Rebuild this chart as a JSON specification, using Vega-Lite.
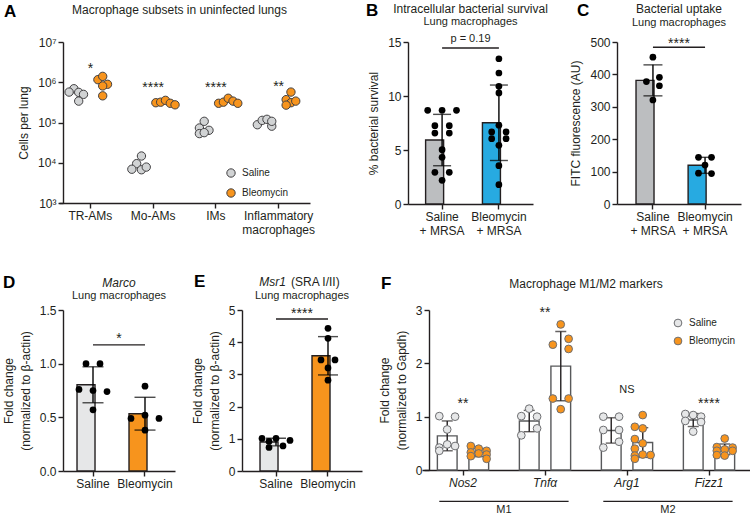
{
"$schema":"https://vega.github.io/schema/vega-lite/v6.json",
"background":"white",
"padding":{"left":2,"top":1,"right":0,"bottom":0},
"config":{
 "font":"Liberation Sans",
 "view":{"stroke":null},
 "axis":{"grid":false,"domainColor":"#231f20","domainWidth":1.4,"tickColor":"#231f20","tickWidth":1.4,"tickSize":5,"labelFont":"Liberation Sans","labelFontSize":12,"labelColor":"#231f20","titleFont":"Liberation Sans","titleFontSize":12,"titleFontWeight":"normal","titleColor":"#231f20","labelPadding":2,"titlePadding":7,"titleLineHeight":17,"labelLineHeight":14},
 "axisX":{"labelAngle":0},
 "title":{"font":"Liberation Sans","fontSize":17,"fontWeight":"bold","color":"#000","anchor":"start","frame":"group","offset":0},
 "text":{"font":"Liberation Sans","color":"#231f20"},
 "legend":{"labelFont":"Liberation Sans","labelFontSize":10,"labelColor":"#231f20"}
},
"bounds":"flush","spacing":268,
"resolve":{"scale":{"fill":"independent","xOffset":"independent","x":"independent","y":"independent"},"legend":{"fill":"independent"}},
"vconcat":[
{"bounds":"flush","spacing":84,
 "resolve":{"scale":{"fill":"independent","xOffset":"independent","x":"independent","y":"independent"},"legend":{"fill":"independent"}},
 "hconcat":[
  {"width":261,"height":161,
   "title":{"text":"A","dx":-59,"dy":21},
   "data":{"values":[
    {"cat":"TR-AMs","g":"Saline","k":"S2","v":690000},{"cat":"TR-AMs","g":"Saline","k":"S1","v":570000},{"cat":"TR-AMs","g":"Saline","k":"S3","v":560000},{"cat":"TR-AMs","g":"Saline","k":"S4","v":500000},{"cat":"TR-AMs","g":"Saline","k":"S3","v":340000},
    {"cat":"TR-AMs","g":"Bleomycin","k":"B2","v":1160000},{"cat":"TR-AMs","g":"Bleomycin","k":"B3","v":1400000},{"cat":"TR-AMs","g":"Bleomycin","k":"B4","v":890000},{"cat":"TR-AMs","g":"Bleomycin","k":"B3","v":810000},{"cat":"TR-AMs","g":"Bleomycin","k":"B3","v":460000},
    {"cat":"Mo-AMs","g":"Saline","k":"S3","v":14700},{"cat":"Mo-AMs","g":"Saline","k":"S2","v":9500},{"cat":"Mo-AMs","g":"Saline","k":"S1","v":6900},{"cat":"Mo-AMs","g":"Saline","k":"S3","v":6700},{"cat":"Mo-AMs","g":"Saline","k":"S4","v":7800},
    {"cat":"Mo-AMs","g":"Bleomycin","k":"B1","v":310000},{"cat":"Mo-AMs","g":"Bleomycin","k":"B2","v":320000},{"cat":"Mo-AMs","g":"Bleomycin","k":"B3","v":355000},{"cat":"Mo-AMs","g":"Bleomycin","k":"B4","v":300000},{"cat":"Mo-AMs","g":"Bleomycin","k":"B5","v":275000},
    {"cat":"IMs","g":"Saline","k":"S3","v":107000},{"cat":"IMs","g":"Saline","k":"S2","v":73000},{"cat":"IMs","g":"Saline","k":"S4","v":64000},{"cat":"IMs","g":"Saline","k":"S2","v":53000},{"cat":"IMs","g":"Saline","k":"S3","v":56000},
    {"cat":"IMs","g":"Bleomycin","k":"B1","v":300000},{"cat":"IMs","g":"Bleomycin","k":"B2","v":320000},{"cat":"IMs","g":"Bleomycin","k":"B3","v":400000},{"cat":"IMs","g":"Bleomycin","k":"B4","v":340000},{"cat":"IMs","g":"Bleomycin","k":"B5","v":300000},
    {"cat":"Inflammatory macrophages","g":"Saline","k":"S1","v":88000},{"cat":"Inflammatory macrophages","g":"Saline","k":"S2","v":113000},{"cat":"Inflammatory macrophages","g":"Saline","k":"S3","v":120000},{"cat":"Inflammatory macrophages","g":"Saline","k":"S4","v":81000},{"cat":"Inflammatory macrophages","g":"Saline","k":"S4","v":107000},
    {"cat":"Inflammatory macrophages","g":"Bleomycin","k":"B3","v":570000},{"cat":"Inflammatory macrophages","g":"Bleomycin","k":"B2","v":370000},{"cat":"Inflammatory macrophages","g":"Bleomycin","k":"B3","v":310000},{"cat":"Inflammatory macrophages","g":"Bleomycin","k":"B2","v":270000},{"cat":"Inflammatory macrophages","g":"Bleomycin","k":"B4","v":340000}
   ]},
   "layer":[
    {"mark":{"type":"circle","size":70,"stroke":"#414042","strokeWidth":1,"opacity":1},
     "encoding":{
      "x":{"field":"cat","type":"nominal","scale":{"domain":["TR-AMs","Mo-AMs","IMs","Inflammatory macrophages"],"range":[-4,247],"paddingInner":0,"paddingOuter":0},"title":null,"axis":{"labelExpr":"split(datum.label, ' ')"}},
      "xOffset":{"field":"k","type":"nominal","scale":{"type":"point","domain":["S1","S2","S3","S4","S5","B1","B2","B3","B4","B5"],"range":[10.1,53.3],"padding":0}},
      "y":{"field":"v","type":"quantitative","scale":{"type":"log","domain":[1000,10000000],"nice":false},"title":"Cells per lung","axis":{"values":[1000,10000,100000,1000000,10000000],"tickCount":10,"labelExpr":"'10' + ['⁰','¹','²','³','⁴','⁵','⁶','⁷'][round(log(datum.value)/LN10)]"}},
      "fill":{"field":"g","type":"nominal","scale":{"domain":["Saline","Bleomycin"],"range":["#d1d3d4","#f7941d"]},"legend":{"title":null,"orient":"none","legendX":163,"legendY":126,"labelFontSize":10,"symbolSize":70,"symbolStrokeColor":"#414042","symbolStrokeWidth":1,"rowPadding":6,"labelOffset":6,"symbolType":"circle"}}
     }},
    {"data":{"values":[{"cat":"TR-AMs","t":"*","v":1700000},{"cat":"Mo-AMs","t":"****","v":570000},{"cat":"IMs","t":"****","v":570000},{"cat":"Inflammatory macrophages","t":"**","v":620000}]},
     "mark":{"type":"text","fontSize":14,"baseline":"alphabetic"},
     "encoding":{"x":{"field":"cat","type":"nominal","title":null},"y":{"field":"v","type":"quantitative","title":"Cells per lung","axis":{"values":[1000,10000,100000,1000000,10000000],"tickCount":10,"labelExpr":"'10' + ['⁰','¹','²','³','⁴','⁵','⁶','⁷'][round(log(datum.value)/LN10)]"}},"text":{"field":"t"}}},
    {"data":{"values":[{"cat":"Mo-AMs","t":"Macrophage subsets in uninfected lungs","v":62400000}]},
     "mark":{"type":"text","fontSize":12,"baseline":"middle","dx":-5},
     "encoding":{"x":{"field":"cat","type":"nominal","bandPosition":1,"title":null},"y":{"field":"v","type":"quantitative","title":"Cells per lung","axis":{"values":[1000,10000,100000,1000000,10000000],"tickCount":10,"labelExpr":"'10' + ['⁰','¹','²','³','⁴','⁵','⁶','⁷'][round(log(datum.value)/LN10)]"}},"text":{"field":"t"}}}
   ]},
  {"width":125,"height":162,
   "title":{"text":"B","dx":-42,"dy":21},
   "data":{"values":[
    {"g":"Saline + MRSA","k":"a","v":8.67},{"g":"Saline + MRSA","k":"c","v":8.67},{"g":"Saline + MRSA","k":"e","v":8.67},{"g":"Saline + MRSA","k":"b","v":7.25},{"g":"Saline + MRSA","k":"d","v":7.25},{"g":"Saline + MRSA","k":"b","v":6.57},{"g":"Saline + MRSA","k":"d","v":6.57},{"g":"Saline + MRSA","k":"c","v":5.03},{"g":"Saline + MRSA","k":"c","v":4.32},{"g":"Saline + MRSA","k":"b","v":2.93},{"g":"Saline + MRSA","k":"d","v":2.93},{"g":"Saline + MRSA","k":"c","v":2.19},
    {"g":"Bleomycin + MRSA","k":"c","v":13.45},{"g":"Bleomycin + MRSA","k":"c","v":12.13},{"g":"Bleomycin + MRSA","k":"c","v":10.9},{"g":"Bleomycin + MRSA","k":"c","v":10.28},{"g":"Bleomycin + MRSA","k":"c","v":7.29},{"g":"Bleomycin + MRSA","k":"b","v":6.67},{"g":"Bleomycin + MRSA","k":"d","v":6.67},{"g":"Bleomycin + MRSA","k":"b","v":6.05},{"g":"Bleomycin + MRSA","k":"d","v":6.05},{"g":"Bleomycin + MRSA","k":"c","v":5.43},{"g":"Bleomycin + MRSA","k":"c","v":3.55},{"g":"Bleomycin + MRSA","k":"c","v":1.79}
   ]},
   "layer":[
    {"mark":{"type":"bar","stroke":"#231f20","strokeWidth":1.4,"width":{"band":0.58}},
     "encoding":{
      "x":{"field":"g","type":"nominal","scale":{"domain":["Saline + MRSA","Bleomycin + MRSA"],"paddingInner":0,"paddingOuter":0.1},"title":null,"axis":{"labelExpr":"[split(datum.label,' + ')[0], '+ ' + split(datum.label,' + ')[1]]"}},
      "y":{"aggregate":"mean","field":"v","type":"quantitative","scale":{"domain":[0,15],"nice":false},"title":"% bacterial survival","axis":{"values":[0,5,10,15],"tickCount":10,"format":"d"}},
      "fill":{"field":"g","type":"nominal","scale":{"domain":["Saline + MRSA","Bleomycin + MRSA"],"range":["#bcbec0","#27aae1"]},"legend":null}
     }},
    {"mark":{"type":"errorbar","extent":"stdev","color":"#000","thickness":1.4,"ticks":{"size":18}},
     "encoding":{"x":{"field":"g","type":"nominal","title":null},"y":{"field":"v","type":"quantitative","title":"% bacterial survival","axis":{"values":[0,5,10,15],"tickCount":10,"format":"d"}}}},
    {"mark":{"type":"circle","size":45,"color":"#000","opacity":1},
     "encoding":{"x":{"field":"g","type":"nominal","title":null},
      "xOffset":{"field":"k","type":"nominal","scale":{"type":"point","domain":["a","b","c","d","e"],"range":[14,42.8],"padding":0}},
      "y":{"field":"v","type":"quantitative","title":"% bacterial survival","axis":{"values":[0,5,10,15],"tickCount":10,"format":"d"}}}},
    {"data":{"values":[{"g":"Saline + MRSA","y":14.44},{"g":"Bleomycin + MRSA","y":14.44}]},
     "mark":{"type":"line","color":"#231f20","strokeWidth":1.4},
     "encoding":{"x":{"field":"g","type":"nominal","title":null},"y":{"field":"y","type":"quantitative","title":"% bacterial survival","axis":{"values":[0,5,10,15],"tickCount":10,"format":"d"}}}},
    {"data":{"values":[{"g":"Saline + MRSA","t":"p = 0.19","y":15.0}]},
     "mark":{"type":"text","fontSize":11,"baseline":"alphabetic"},
     "encoding":{"x":{"field":"g","type":"nominal","bandPosition":1,"title":null},"y":{"field":"y","type":"quantitative","title":"% bacterial survival","axis":{"values":[0,5,10,15],"tickCount":10,"format":"d"}},"text":{"field":"t"}}},
    {"data":{"values":[{"g":"Saline + MRSA","t":"Intracellular bacterial survival","y":18.1}]},
     "mark":{"type":"text","fontSize":12,"baseline":"middle"},
     "encoding":{"x":{"field":"g","type":"nominal","bandPosition":1,"title":null},"y":{"field":"y","type":"quantitative","title":"% bacterial survival","axis":{"values":[0,5,10,15],"tickCount":10,"format":"d"}},"text":{"field":"t"}}},
    {"data":{"values":[{"g":"Saline + MRSA","t":"Lung macrophages","y":16.85}]},
     "mark":{"type":"text","fontSize":11,"baseline":"middle"},
     "encoding":{"x":{"field":"g","type":"nominal","bandPosition":1,"title":null},"y":{"field":"y","type":"quantitative","title":"% bacterial survival","axis":{"values":[0,5,10,15],"tickCount":10,"format":"d"}},"text":{"field":"t"}}}
   ]},
  {"width":124,"height":162,
   "title":{"text":"C","dx":-40,"dy":21},
   "data":{"values":[
    {"g":"Saline + MRSA","k":"c","v":453},{"g":"Saline + MRSA","k":"d","v":391},{"g":"Saline + MRSA","k":"b","v":378},{"g":"Saline + MRSA","k":"d","v":365},{"g":"Saline + MRSA","k":"c","v":321},
    {"g":"Bleomycin + MRSA","k":"b","v":144},{"g":"Bleomycin + MRSA","k":"d","v":144},{"g":"Bleomycin + MRSA","k":"c","v":120},{"g":"Bleomycin + MRSA","k":"b","v":95},{"g":"Bleomycin + MRSA","k":"d","v":94}
   ]},
   "layer":[
    {"mark":{"type":"bar","stroke":"#231f20","strokeWidth":1.4,"width":{"band":0.65}},
     "encoding":{
      "x":{"field":"g","type":"nominal","scale":{"domain":["Saline + MRSA","Bleomycin + MRSA"],"paddingInner":0,"paddingOuter":0.19},"title":null,"axis":{"labelExpr":"[split(datum.label,' + ')[0], '+ ' + split(datum.label,' + ')[1]]"}},
      "y":{"aggregate":"mean","field":"v","type":"quantitative","scale":{"domain":[0,500],"nice":false},"title":"FITC fluorescence (AU)","axis":{"values":[0,100,200,300,400,500],"tickCount":10,"format":"d"}},
      "fill":{"field":"g","type":"nominal","scale":{"domain":["Saline + MRSA","Bleomycin + MRSA"],"range":["#bcbec0","#27aae1"]},"legend":null}
     }},
    {"mark":{"type":"errorbar","extent":"stdev","color":"#000","thickness":1.4,"ticks":{"size":19}},
     "encoding":{"x":{"field":"g","type":"nominal","title":null},"y":{"field":"v","type":"quantitative","title":"FITC fluorescence (AU)","axis":{"values":[0,100,200,300,400,500],"tickCount":10,"format":"d"}}}},
    {"mark":{"type":"circle","size":45,"color":"#000","opacity":1},
     "encoding":{"x":{"field":"g","type":"nominal","title":null},
      "xOffset":{"field":"k","type":"nominal","scale":{"type":"point","domain":["a","b","c","d","e"],"range":[13,39],"padding":0}},
      "y":{"field":"v","type":"quantitative","title":"FITC fluorescence (AU)","axis":{"values":[0,100,200,300,400,500],"tickCount":10,"format":"d"}}}},
    {"data":{"values":[{"g":"Saline + MRSA","y":483.6},{"g":"Bleomycin + MRSA","y":483.6}]},
     "mark":{"type":"line","color":"#231f20","strokeWidth":1.4},
     "encoding":{"x":{"field":"g","type":"nominal","title":null},"y":{"field":"y","type":"quantitative","title":"FITC fluorescence (AU)","axis":{"values":[0,100,200,300,400,500],"tickCount":10,"format":"d"}}}},
    {"data":{"values":[{"g":"Saline + MRSA","t":"****","y":480}]},
     "mark":{"type":"text","fontSize":14,"baseline":"alphabetic"},
     "encoding":{"x":{"field":"g","type":"nominal","bandPosition":1,"title":null},"y":{"field":"y","type":"quantitative","title":"FITC fluorescence (AU)","axis":{"values":[0,100,200,300,400,500],"tickCount":10,"format":"d"}},"text":{"field":"t"}}},
    {"data":{"values":[{"g":"Saline + MRSA","t":"Bacterial uptake","y":601}]},
     "mark":{"type":"text","fontSize":12,"baseline":"middle"},
     "encoding":{"x":{"field":"g","type":"nominal","bandPosition":1,"title":null},"y":{"field":"y","type":"quantitative","title":"FITC fluorescence (AU)","axis":{"values":[0,100,200,300,400,500],"tickCount":10,"format":"d"}},"text":{"field":"t"}}},
    {"data":{"values":[{"g":"Saline + MRSA","t":"Lung macrophages","y":560}]},
     "mark":{"type":"text","fontSize":11,"baseline":"middle"},
     "encoding":{"x":{"field":"g","type":"nominal","bandPosition":1,"title":null},"y":{"field":"y","type":"quantitative","title":"FITC fluorescence (AU)","axis":{"values":[0,100,200,300,400,500],"tickCount":10,"format":"d"}},"text":{"field":"t"}}}
   ]}
 ]},
{"bounds":"flush","spacing":67,
 "resolve":{"scale":{"fill":"independent","xOffset":"independent","x":"independent","y":"independent"},"legend":{"fill":"independent"}},
 "hconcat":[
  {"width":112,"height":161,
   "title":{"text":"D","dx":-60,"dy":19},
   "data":{"values":[
    {"g":"Saline","k":"b","v":1.0},{"g":"Saline","k":"d","v":1.0},{"g":"Saline","k":"a","v":0.76},{"g":"Saline","k":"c","v":0.75},{"g":"Saline","k":"e","v":0.74},{"g":"Saline","k":"c","v":0.57},
    {"g":"Bleomycin","k":"c","v":0.79},{"g":"Bleomycin","k":"c","v":0.52},{"g":"Bleomycin","k":"a","v":0.49},{"g":"Bleomycin","k":"e","v":0.49},{"g":"Bleomycin","k":"c","v":0.38}
   ]},
   "layer":[
    {"mark":{"type":"bar","stroke":"#231f20","strokeWidth":1.4,"width":{"band":0.615}},
     "encoding":{
      "x":{"field":"g","type":"nominal","scale":{"domain":["Saline","Bleomycin"],"paddingInner":0,"paddingOuter":0.077},"title":null},
      "y":{"aggregate":"mean","field":"v","type":"quantitative","scale":{"domain":[0,1.5],"nice":false},"title":["Fold change","(normalized to β-actin)"],"axis":{"values":[0,0.5,1,1.5],"tickCount":10,"format":".1f"}},
      "fill":{"field":"g","type":"nominal","scale":{"domain":["Saline","Bleomycin"],"range":["#e6e7e8","#f7941d"]},"legend":null}
     }},
    {"mark":{"type":"errorbar","extent":"stdev","color":"#000","thickness":1.4,"ticks":{"size":21}},
     "encoding":{"x":{"field":"g","type":"nominal","title":null},"y":{"field":"v","type":"quantitative","title":["Fold change","(normalized to β-actin)"],"axis":{"values":[0,0.5,1,1.5],"tickCount":10,"format":".1f"}}}},
    {"mark":{"type":"circle","size":45,"color":"#000","opacity":1},
     "encoding":{"x":{"field":"g","type":"nominal","title":null},
      "xOffset":{"field":"k","type":"nominal","scale":{"type":"point","domain":["a","b","c","d","e"],"range":[12,40],"padding":0}},
      "y":{"field":"v","type":"quantitative","title":["Fold change","(normalized to β-actin)"],"axis":{"values":[0,0.5,1,1.5],"tickCount":10,"format":".1f"}}}},
    {"data":{"values":[{"g":"Saline","y":1.175},{"g":"Bleomycin","y":1.175}]},
     "mark":{"type":"line","color":"#231f20","strokeWidth":1.4},
     "encoding":{"x":{"field":"g","type":"nominal","title":null},"y":{"field":"y","type":"quantitative","title":["Fold change","(normalized to β-actin)"],"axis":{"values":[0,0.5,1,1.5],"tickCount":10,"format":".1f"}}}},
    {"data":{"values":[{"g":"Saline","t":"*","y":1.19}]},
     "mark":{"type":"text","fontSize":14,"baseline":"alphabetic"},
     "encoding":{"x":{"field":"g","type":"nominal","bandPosition":1,"title":null},"y":{"field":"y","type":"quantitative","title":["Fold change","(normalized to β-actin)"],"axis":{"values":[0,0.5,1,1.5],"tickCount":10,"format":".1f"}},"text":{"field":"t"}}},
    {"data":{"values":[{"g":"Saline","t":"Marco","y":1.75}]},
     "mark":{"type":"text","fontSize":12,"fontStyle":"italic","baseline":"middle"},
     "encoding":{"x":{"field":"g","type":"nominal","bandPosition":1,"title":null},"y":{"field":"y","type":"quantitative","title":["Fold change","(normalized to β-actin)"],"axis":{"values":[0,0.5,1,1.5],"tickCount":10,"format":".1f"}},"text":{"field":"t"}}},
    {"data":{"values":[{"g":"Saline","t":"Lung macrophages","y":1.63}]},
     "mark":{"type":"text","fontSize":11,"baseline":"middle"},
     "encoding":{"x":{"field":"g","type":"nominal","bandPosition":1,"title":null},"y":{"field":"y","type":"quantitative","title":["Fold change","(normalized to β-actin)"],"axis":{"values":[0,0.5,1,1.5],"tickCount":10,"format":".1f"}},"text":{"field":"t"}}}
   ]},
  {"width":120,"height":161,
   "title":{"text":"E","dx":-48,"dy":19},
   "data":{"values":[
    {"g":"Saline","k":"a","v":1.01},{"g":"Saline","k":"c","v":1.01},{"g":"Saline","k":"e","v":0.95},{"g":"Saline","k":"b","v":0.92},{"g":"Saline","k":"d","v":0.78},{"g":"Saline","k":"b","v":0.73},
    {"g":"Bleomycin","k":"c","v":4.43},{"g":"Bleomycin","k":"c","v":4.12},{"g":"Bleomycin","k":"b","v":3.45},{"g":"Bleomycin","k":"d","v":3.45},{"g":"Bleomycin","k":"c","v":3.2},{"g":"Bleomycin","k":"c","v":2.82}
   ]},
   "layer":[
    {"mark":{"type":"bar","stroke":"#231f20","strokeWidth":1.4,"width":{"band":0.615}},
     "encoding":{
      "x":{"field":"g","type":"nominal","scale":{"domain":["Saline","Bleomycin"],"paddingInner":0,"paddingOuter":0.154},"title":null},
      "y":{"aggregate":"mean","field":"v","type":"quantitative","scale":{"domain":[0,5],"nice":false},"title":["Fold change","(normalized to β-actin)"],"axis":{"values":[0,1,2,3,4,5],"tickCount":10,"format":"d"}},
      "fill":{"field":"g","type":"nominal","scale":{"domain":["Saline","Bleomycin"],"range":["#e6e7e8","#f7941d"]},"legend":null}
     }},
    {"mark":{"type":"errorbar","extent":"stdev","color":"#000","thickness":1.4,"ticks":{"size":20}},
     "encoding":{"x":{"field":"g","type":"nominal","title":null},"y":{"field":"v","type":"quantitative","title":["Fold change","(normalized to β-actin)"],"axis":{"values":[0,1,2,3,4,5],"tickCount":10,"format":"d"}}}},
    {"mark":{"type":"circle","size":45,"color":"#000","opacity":1},
     "encoding":{"x":{"field":"g","type":"nominal","title":null},
      "xOffset":{"field":"k","type":"nominal","scale":{"type":"point","domain":["a","b","c","d","e"],"range":[12,40],"padding":0}},
      "y":{"field":"v","type":"quantitative","title":["Fold change","(normalized to β-actin)"],"axis":{"values":[0,1,2,3,4,5],"tickCount":10,"format":"d"}}}},
    {"data":{"values":[{"g":"Saline","y":4.72},{"g":"Bleomycin","y":4.72}]},
     "mark":{"type":"line","color":"#231f20","strokeWidth":1.4},
     "encoding":{"x":{"field":"g","type":"nominal","title":null},"y":{"field":"y","type":"quantitative","title":["Fold change","(normalized to β-actin)"],"axis":{"values":[0,1,2,3,4,5],"tickCount":10,"format":"d"}}}},
    {"data":{"values":[{"g":"Saline","t":"****","y":4.74}]},
     "mark":{"type":"text","fontSize":14,"baseline":"alphabetic"},
     "encoding":{"x":{"field":"g","type":"nominal","bandPosition":1,"title":null},"y":{"field":"y","type":"quantitative","title":["Fold change","(normalized to β-actin)"],"axis":{"values":[0,1,2,3,4,5],"tickCount":10,"format":"d"}},"text":{"field":"t"}}},
    {"data":{"values":[{"g":"Saline","t":"Msr1","y":5.86}]},
     "mark":{"type":"text","fontSize":12,"fontStyle":"italic","baseline":"middle","align":"right","dx":-16},
     "encoding":{"x":{"field":"g","type":"nominal","bandPosition":1,"title":null},"y":{"field":"y","type":"quantitative","title":["Fold change","(normalized to β-actin)"],"axis":{"values":[0,1,2,3,4,5],"tickCount":10,"format":"d"}},"text":{"field":"t"}}},
    {"data":{"values":[{"g":"Saline","t":"(SRA I/II)","y":5.86}]},
     "mark":{"type":"text","fontSize":12,"baseline":"middle","align":"left","dx":-11},
     "encoding":{"x":{"field":"g","type":"nominal","bandPosition":1,"title":null},"y":{"field":"y","type":"quantitative","title":["Fold change","(normalized to β-actin)"],"axis":{"values":[0,1,2,3,4,5],"tickCount":10,"format":"d"}},"text":{"field":"t"}}},
    {"data":{"values":[{"g":"Saline","t":"Lung macrophages","y":5.42}]},
     "mark":{"type":"text","fontSize":11,"baseline":"middle"},
     "encoding":{"x":{"field":"g","type":"nominal","bandPosition":1,"title":null},"y":{"field":"y","type":"quantitative","title":["Fold change","(normalized to β-actin)"],"axis":{"values":[0,1,2,3,4,5],"tickCount":10,"format":"d"}},"text":{"field":"t"}}}
   ]},
  {"width":319,"height":160,
   "title":{"text":"F","dx":-48,"dy":19},
   "data":{"values":[
    {"gene":"Nos2","g":"Saline","k":"S1","v":1.01},{"gene":"Nos2","g":"Saline","k":"S3","v":1.0},{"gene":"Nos2","g":"Saline","k":"S2","v":0.76},{"gene":"Nos2","g":"Saline","k":"S2","v":0.48},{"gene":"Nos2","g":"Saline","k":"S3","v":0.45},{"gene":"Nos2","g":"Saline","k":"S1","v":0.42},{"gene":"Nos2","g":"Saline","k":"S1","v":0.36},
    {"gene":"Nos2","g":"Bleomycin","k":"B1","v":0.45},{"gene":"Nos2","g":"Bleomycin","k":"B2","v":0.40},{"gene":"Nos2","g":"Bleomycin","k":"B3","v":0.36},{"gene":"Nos2","g":"Bleomycin","k":"B1","v":0.33},{"gene":"Nos2","g":"Bleomycin","k":"B2","v":0.31},{"gene":"Nos2","g":"Bleomycin","k":"B3","v":0.29},{"gene":"Nos2","g":"Bleomycin","k":"B1","v":0.26},{"gene":"Nos2","g":"Bleomycin","k":"B3","v":0.21},
    {"gene":"Tnfα","g":"Saline","k":"S2","v":1.15},{"gene":"Tnfα","g":"Saline","k":"S1","v":1.01},{"gene":"Tnfα","g":"Saline","k":"S3","v":1.0},{"gene":"Tnfα","g":"Saline","k":"S3","v":0.78},{"gene":"Tnfα","g":"Saline","k":"S1","v":0.65},
    {"gene":"Tnfα","g":"Bleomycin","k":"B2","v":2.73},{"gene":"Tnfα","g":"Bleomycin","k":"B3","v":2.46},{"gene":"Tnfα","g":"Bleomycin","k":"B1","v":2.35},{"gene":"Tnfα","g":"Bleomycin","k":"B3","v":2.27},{"gene":"Tnfα","g":"Bleomycin","k":"B1","v":1.34},{"gene":"Tnfα","g":"Bleomycin","k":"B3","v":1.34},{"gene":"Tnfα","g":"Bleomycin","k":"B2","v":1.14},
    {"gene":"Arg1","g":"Saline","k":"S1","v":1.0},{"gene":"Arg1","g":"Saline","k":"S3","v":1.0},{"gene":"Arg1","g":"Saline","k":"S1","v":0.75},{"gene":"Arg1","g":"Saline","k":"S3","v":0.75},{"gene":"Arg1","g":"Saline","k":"S3","v":0.53},{"gene":"Arg1","g":"Saline","k":"S1","v":0.42},
    {"gene":"Arg1","g":"Bleomycin","k":"B2","v":1.03},{"gene":"Arg1","g":"Bleomycin","k":"B1","v":0.81},{"gene":"Arg1","g":"Bleomycin","k":"B2","v":0.78},{"gene":"Arg1","g":"Bleomycin","k":"B1","v":0.58},{"gene":"Arg1","g":"Bleomycin","k":"B2","v":0.50},{"gene":"Arg1","g":"Bleomycin","k":"B1","v":0.40},{"gene":"Arg1","g":"Bleomycin","k":"B3","v":0.28},{"gene":"Arg1","g":"Bleomycin","k":"B1","v":0.27},{"gene":"Arg1","g":"Bleomycin","k":"B2","v":0.29},{"gene":"Arg1","g":"Bleomycin","k":"B1","v":0.21},
    {"gene":"Fizz1","g":"Saline","k":"S1","v":1.05},{"gene":"Fizz1","g":"Saline","k":"S2","v":1.03},{"gene":"Fizz1","g":"Saline","k":"S3","v":1.0},{"gene":"Fizz1","g":"Saline","k":"S1","v":0.92},{"gene":"Fizz1","g":"Saline","k":"S3","v":0.9},{"gene":"Fizz1","g":"Saline","k":"S2","v":0.72},
    {"gene":"Fizz1","g":"Bleomycin","k":"B2","v":0.59},{"gene":"Fizz1","g":"Bleomycin","k":"B1","v":0.43},{"gene":"Fizz1","g":"Bleomycin","k":"B3","v":0.42},{"gene":"Fizz1","g":"Bleomycin","k":"B2","v":0.385},{"gene":"Fizz1","g":"Bleomycin","k":"B1","v":0.36},{"gene":"Fizz1","g":"Bleomycin","k":"B1","v":0.28},{"gene":"Fizz1","g":"Bleomycin","k":"B2","v":0.27},{"gene":"Fizz1","g":"Bleomycin","k":"B3","v":0.36}
   ]},
   "resolve":{"scale":{"xOffset":"independent"}},
   "layer":[
    {"mark":{"type":"bar","fill":"white","stroke":"#58595b","strokeWidth":1.4},
     "encoding":{
      "x":{"field":"gene","type":"nominal","scale":{"domain":["Nos2","Tnfα","Arg1","Fizz1"],"range":[-7,321],"paddingInner":0,"paddingOuter":0},"title":null,"axis":{"labelFontStyle":"italic"}},
      "xOffset":{"field":"g","type":"nominal","scale":{"domain":["Saline","Bleomycin"],"paddingInner":0.375,"paddingOuter":0.4875}},
      "y":{"aggregate":"mean","field":"v","type":"quantitative","scale":{"domain":[0,3],"nice":false},"title":["Fold change","(normalized to Gapdh)"],"axis":{"values":[0,1,2,3],"tickCount":10,"format":"d"}}
     }},
    {"mark":{"type":"errorbar","extent":"stdev","color":"#231f20","thickness":1.4,"ticks":{"size":11}},
     "encoding":{"x":{"field":"gene","type":"nominal","title":null},
      "xOffset":{"field":"g","type":"nominal","scale":{"domain":["Saline","Bleomycin"],"paddingInner":0.375,"paddingOuter":0.4875}},
      "y":{"field":"v","type":"quantitative","title":["Fold change","(normalized to Gapdh)"],"axis":{"values":[0,1,2,3],"tickCount":10,"format":"d"}}}},
    {"mark":{"type":"circle","size":60,"stroke":"#6d6e71","strokeWidth":1,"opacity":1},
     "encoding":{"x":{"field":"gene","type":"nominal","title":null},
      "xOffset":{"field":"k","type":"nominal","scale":{"type":"point","domain":["S1","S2","S3","x","B1","B2","B3"],"range":[17.3,64.6],"padding":0}},
      "y":{"field":"v","type":"quantitative","title":["Fold change","(normalized to Gapdh)"],"axis":{"values":[0,1,2,3],"tickCount":10,"format":"d"}},
      "fill":{"field":"g","type":"nominal","scale":{"domain":["Saline","Bleomycin"],"range":["#e6e7e8","#f7941d"]},"legend":{"title":null,"orient":"none","legendX":244,"legendY":8,"labelFontSize":10,"symbolSize":60,"symbolStrokeColor":"#6d6e71","symbolStrokeWidth":1,"rowPadding":6,"labelOffset":6,"symbolType":"circle"}}
     }},
    {"data":{"values":[{"gene":"Nos2","t":"**","y":1.16},{"gene":"Tnfα","t":"**","y":2.86},{"gene":"Fizz1","t":"****","y":1.16}]},
     "mark":{"type":"text","fontSize":14,"baseline":"alphabetic"},
     "encoding":{"x":{"field":"gene","type":"nominal","title":null},"y":{"field":"y","type":"quantitative","title":["Fold change","(normalized to Gapdh)"],"axis":{"values":[0,1,2,3],"tickCount":10,"format":"d"}},"text":{"field":"t"}}},
    {"data":{"values":[{"gene":"Arg1","t":"NS","y":1.45}]},
     "mark":{"type":"text","fontSize":11,"baseline":"alphabetic"},
     "encoding":{"x":{"field":"gene","type":"nominal","title":null},"y":{"field":"y","type":"quantitative","title":["Fold change","(normalized to Gapdh)"],"axis":{"values":[0,1,2,3],"tickCount":10,"format":"d"}},"text":{"field":"t"}}},
    {"data":{"values":[{"m":"M1","gene":"Nos2","k":"S1","y":-0.59},{"m":"M1","gene":"Tnfα","k":"B3","y":-0.59},{"m":"M2","gene":"Arg1","k":"S1","y":-0.59},{"m":"M2","gene":"Fizz1","k":"B3","y":-0.59}]},
     "mark":{"type":"line","color":"#231f20","strokeWidth":1.2},
     "encoding":{"x":{"field":"gene","type":"nominal","title":null},
      "xOffset":{"field":"k","type":"nominal","scale":{"type":"point","domain":["S1","S2","S3","x","B1","B2","B3"],"range":[17.3,64.6],"padding":0}},
      "y":{"field":"y","type":"quantitative","title":["Fold change","(normalized to Gapdh)"],"axis":{"values":[0,1,2,3],"tickCount":10,"format":"d"}},"detail":{"field":"m"}}},
    {"data":{"values":[{"gene":"Nos2","t":"M1","y":-0.745},{"gene":"Arg1","t":"M2","y":-0.745}]},
     "mark":{"type":"text","fontSize":11,"baseline":"middle"},
     "encoding":{"x":{"field":"gene","type":"nominal","bandPosition":1,"title":null},"y":{"field":"y","type":"quantitative","title":["Fold change","(normalized to Gapdh)"],"axis":{"values":[0,1,2,3],"tickCount":10,"format":"d"}},"text":{"field":"t"}}},
    {"data":{"values":[{"gene":"Tnfα","t":"Macrophage M1/M2 markers","y":3.486}]},
     "mark":{"type":"text","fontSize":12,"baseline":"middle"},
     "encoding":{"x":{"field":"gene","type":"nominal","bandPosition":1,"title":null},"y":{"field":"y","type":"quantitative","title":["Fold change","(normalized to Gapdh)"],"axis":{"values":[0,1,2,3],"tickCount":10,"format":"d"}},"text":{"field":"t"}}}
   ]}
 ]}
]
}
